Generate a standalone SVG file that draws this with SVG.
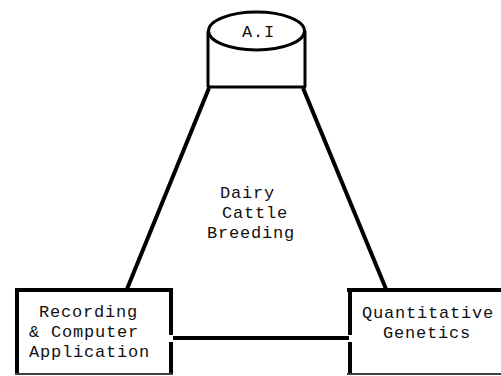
<svg xmlns="http://www.w3.org/2000/svg" width="501" height="376" viewBox="0 0 501 376">
<style>
.t{font-family:"Liberation Mono","DejaVu Sans Mono",monospace;font-size:17px;letter-spacing:0.8px;fill:#111}
.thick{stroke:#000;stroke-width:4;fill:none}
.med{stroke:#000;stroke-width:3;fill:none}
.thin{stroke:#000;stroke-width:1.5;fill:none}
</style>
<rect width="501" height="376" fill="#fff"/>
<g id="connectors">
<line class="thick" x1="209" y1="88" x2="127" y2="289"/>
<line class="thick" x1="303" y1="88" x2="386" y2="289"/>
<line class="thick" x1="173" y1="338" x2="349" y2="338"/>
</g>
<g id="ai">
<line class="med" x1="208" y1="31" x2="208" y2="87"/>
<line class="med" x1="305" y1="31" x2="305" y2="87"/>
<line class="med" x1="207" y1="87" x2="306" y2="87"/>
<ellipse class="med" cx="256.5" cy="31" rx="48" ry="19" fill="#fff"/>
<text class="t" x="242" y="37">A.I</text>
</g>
<g id="dairy">
<text class="t" x="220" y="198">Dairy</text>
<text class="t" x="222" y="218">Cattle</text>
<text class="t" x="207" y="238">Breeding</text>
</g>
<g id="recording">
<line class="thick" x1="15" y1="290" x2="173" y2="290"/>
<line class="thick" x1="17" y1="292" x2="17" y2="373"/>
<line class="thick" x1="171" y1="292" x2="171" y2="335"/>
<line class="thick" x1="171" y1="342" x2="171" y2="373"/>
<line class="thin" x1="15" y1="374" x2="173" y2="374"/>
<text class="t" x="39" y="317">Recording</text>
<text class="t" x="29" y="337">&amp; Computer</text>
<text class="t" x="29" y="357">Application</text>
</g>
<g id="quantitative">
<line class="thick" x1="347" y1="290" x2="501" y2="290"/>
<line class="thick" x1="350" y1="292" x2="350" y2="335"/>
<line class="thick" x1="350" y1="342" x2="350" y2="373"/>
<line class="thin" x1="347" y1="374" x2="501" y2="374"/>
<text class="t" x="362" y="318">Quantitative</text>
<text class="t" x="383" y="338">Genetics</text>
</g>
</svg>
